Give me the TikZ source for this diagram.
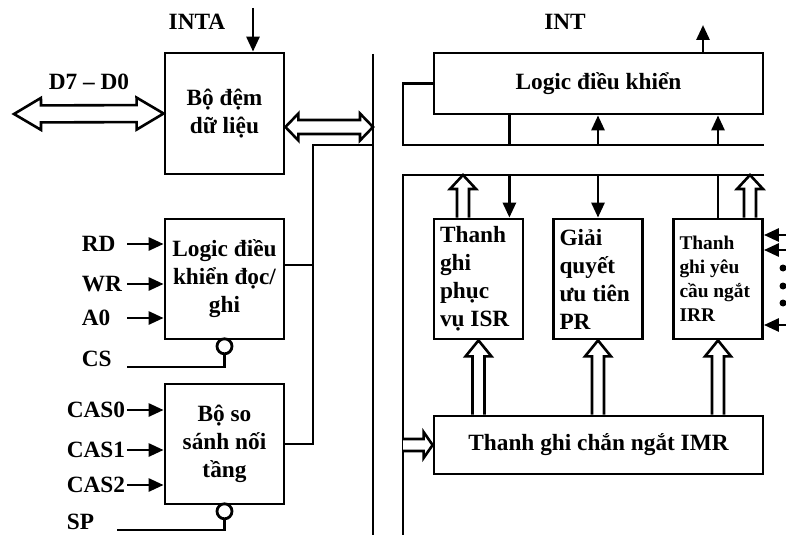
\documentclass[tikz,border=0pt]{standalone}
\usepackage{fontspec}
\setmainfont{Liberation Serif}
\usetikzlibrary{
    arrows.meta,
    positioning,
    calc
}
\tikzset{
  block/.style  = {draw, line width=2.8pt, align=center, inner sep=2pt,
                   font=\bfseries\fontsize{23.3}{28}\selectfont},
  reg/.style    = {draw, line width=2.8pt, minimum width=89pt,
                   minimum height=120pt, text width=77pt, inner sep=6pt,
                   align=flush left, font=\bfseries\fontsize{23.3}{28}\selectfont},
  lbl/.style    = {inner sep=0pt, align=flush left,
                   font=\bfseries\fontsize{23.3}{28}\selectfont},
  wire/.style   = {line width=2.8pt},
  arr/.style    = {-{Triangle[length=15pt, width=13pt]}, line width=2.8pt},
  bubble/.style = {draw, circle, line width=2.8pt, minimum size=15pt,
                   inner sep=0pt}
}

\begin{document}
\begin{tikzpicture}[x=1pt, y=-1pt,
    hollow/.style n args={3}{line width=2.6pt, fill=white, to path={
      ($(\tikztotarget)!#3!(\tikztostart)$) coordinate (hh)
      ($(\tikztostart)!#1!90:(\tikztotarget)$) -- ($(hh)!#1!90:(\tikztotarget)$)
      -- ($(hh)!#2!90:(\tikztotarget)$) -- (\tikztotarget)
      -- ($(hh)!#2!-90:(\tikztotarget)$) -- ($(hh)!#1!-90:(\tikztotarget)$)
      -- ($(\tikztostart)!#1!-90:(\tikztotarget)$)}},
    dhollow/.style n args={3}{line width=2.6pt, fill=white, to path={
      ($(\tikztotarget)!#3!(\tikztostart)$) coordinate (ht)
      ($(\tikztostart)!#3!(\tikztotarget)$) coordinate (hs)
      (\tikztostart) -- ($(hs)!#2!90:(\tikztotarget)$) -- ($(hs)!#1!90:(\tikztotarget)$)
      -- ($(ht)!#1!90:(\tikztotarget)$) -- ($(ht)!#2!90:(\tikztotarget)$)
      -- (\tikztotarget) -- ($(ht)!#2!-90:(\tikztotarget)$)
      -- ($(ht)!#1!-90:(\tikztotarget)$) -- ($(hs)!#1!-90:(\tikztotarget)$)
      -- ($(hs)!#2!-90:(\tikztotarget)$) -- cycle}}
  ]
    \useasboundingbox (0,0) rectangle (786,535);

    % left blocks
    \node[block, minimum width=119pt, minimum height=121pt] (buf) at (224.5,113.5) {Bộ đệm\\dữ liệu};
    \node[block, minimum width=119pt, minimum height=120pt] (rw) at (224.5,279) {Logic điều\\khiển đọc/\\ghi};
    \node[block, minimum width=119pt, minimum height=120pt] (cmp) at (224.5,444) {Bộ so\\sánh nối\\tầng};
    \node[bubble, below=-3pt of rw] (csb) {};
    \node[bubble, below=-3pt of cmp] (spb) {};

    % right blocks
    \node[block, minimum width=329pt, minimum height=61pt] (ctl) at (598.5,83.5) {Logic điều khiển};
    \node[reg] (isr) at (478.5,279) {Thanh\\ghi\\phục\\vụ ISR};
    \node[reg] (pr) at (598,279) {Giải\\quyết\\ưu tiên\\PR};
    \node[reg, font=\bfseries\fontsize{19.4}{24}\selectfont] (irr) at (718,279) {Thanh\\ghi yêu\\cầu ngắt\\IRR};
    \node[block, minimum width=329pt, minimum height=58pt] (imr) at (598.5,445) {Thanh ghi chắn ngắt IMR};

    % pin labels
    \node[lbl] (inta) at (197,22) {INTA};
    \node[lbl] (int) at (565,22) {INT};
    \node[lbl] (dbus) at (89,82) {D7 – D0};
    \node[lbl, text width=45pt, anchor=east] (rd) at (127,244) {RD};
    \node[lbl, text width=45pt, anchor=east] (wr) at (127,284) {WR};
    \node[lbl, text width=45pt, anchor=east] (a0) at (127,318) {A0};
    \node[lbl, text width=45pt, anchor=east] (cs) at (127,359) {CS};
    \node[lbl, text width=60pt, anchor=east] (cas0) at (127,410) {CAS0};
    \node[lbl, text width=60pt, anchor=east] (cas1) at (127,450) {CAS1};
    \node[lbl, text width=60pt, anchor=east] (cas2) at (127,485) {CAS2};
    \node[lbl, text width=50pt, anchor=east] (sp) at (117,522) {SP};

    \coordinate (intain) at (253,8);
    \coordinate (intout) at (703,25);
    \coordinate (dleft) at (14,114);
    \coordinate (bustop) at (373,54);
    \coordinate (busbot) at (373,535);
    \coordinate (cb) at (313,145);
    \coordinate (rb) at (403,145);
    \coordinate (rb2) at (403,175);
    \coordinate (redge) at (790,279);

    % inputs on the left
    \draw[arr] (intain) -- (intain |- buf.north);
    \draw[dhollow={8.5pt}{16pt}{27pt}] (dleft) to (buf.west);
    \draw[arr] (rd) -- (rd -| rw.west);
    \draw[arr] (wr) -- (wr -| rw.west);
    \draw[arr] (a0) -- (a0 -| rw.west);
    \draw[wire] (cs.south east) -| (csb);
    \draw[arr] (cas0) -- (cas0 -| cmp.west);
    \draw[arr] (cas1) -- (cas1 -| cmp.west);
    \draw[arr] (cas2) -- (cas2 -| cmp.west);
    \draw[wire] (sp.south east) -| (spb);

    % internal bus
    \draw[wire] (bustop) -- (busbot);
    \draw[dhollow={7pt}{13.5pt}{13pt}] ([yshift=-13.5pt]buf.east) to ([yshift=-13.5pt]buf.east -| bustop);
    \draw[wire] (bustop |- cb) -- (cb) |- (cmp.east);
    \draw[wire] ([yshift=14pt]rw.east) -- ([yshift=14pt]rw.east -| cb);

    % control lines
    \draw[wire] (ctl.west) -| (rb) -- (rb -| ctl.east);
    \draw[wire] (rb2 -| ctl.east) -- (rb2) -- (rb2 |- busbot);
    \draw[arr] (intout |- ctl.north) -- (intout);
    \coordinate (isrin) at ([xshift=-15pt]isr.north east);
    \draw[wire] (ctl.south -| isrin) -- (rb -| isrin);
    \draw[arr] (rb2 -| isrin) -- (isrin);
    \draw[arr] (rb -| pr.north) -- (ctl.south -| pr.north);
    \draw[arr] (rb2 -| pr.north) -- (pr.north);
    \draw[arr] (rb -| irr.north) -- (ctl.south -| irr.north);
    \draw[wire] (irr.north) -- (rb2 -| irr.north);
    \draw[hollow={6pt}{13pt}{14pt}] ([xshift=-15.5pt]isr.north) to ([xshift=-15.5pt]isr.north |- rb2);
    \draw[hollow={6pt}{13pt}{14pt}] ([xshift=32pt]irr.north) to ([xshift=32pt]irr.north |- rb2);

    % mask register
    \draw[hollow={6pt}{13pt}{9pt}] (imr.west -| rb2) to (imr.west);
    \draw[hollow={6pt}{13pt}{16pt}] (imr.north -| isr.south) to (isr.south);
    \draw[hollow={6pt}{13pt}{16pt}] (imr.north -| pr.south) to (pr.south);
    \draw[hollow={6pt}{13pt}{16pt}] (imr.north -| irr.south) to (irr.south);

    % request inputs
    \draw[arr] ([yshift=44pt]irr.east -| redge) -- ([yshift=44pt]irr.east);
    \draw[arr] ([yshift=29pt]irr.east -| redge) -- ([yshift=29pt]irr.east);
    \draw[arr] ([yshift=-46pt]irr.east -| redge) -- ([yshift=-46pt]irr.east);
    \foreach \dy in {11,-7,-24}
      \fill ([yshift=\dy pt]irr.east -| 783,0) circle (3.5pt);
  \end{tikzpicture}
\end{document}
